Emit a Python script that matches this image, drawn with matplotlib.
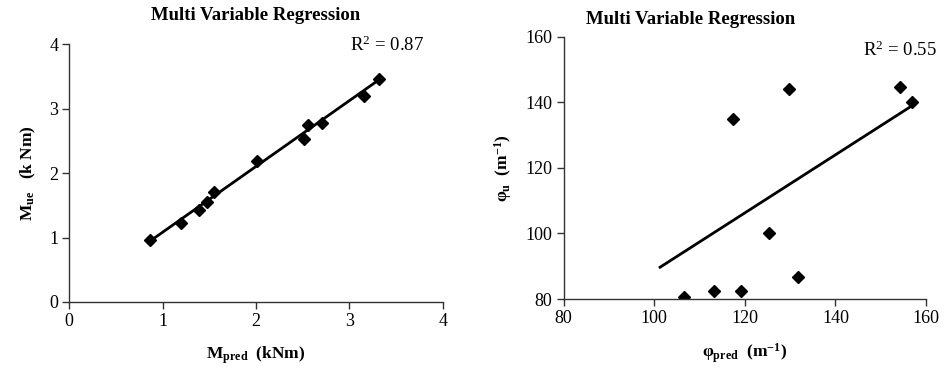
import matplotlib

matplotlib.use('AGG')
import matplotlib.pyplot as plt

plt.rcParams['font.family'] = ['Liberation Serif', 'DejaVu Serif']
plt.rcParams['mathtext.fontset'] = 'custom'
plt.rcParams['mathtext.rm'] = 'Liberation Serif'
plt.rcParams['mathtext.it'] = 'Liberation Serif:italic'
plt.rcParams['mathtext.bf'] = 'Liberation Serif:bold'

# moment chart
m_pred = [0.86, 1.20, 1.39, 1.47, 1.55, 2.01, 2.51, 2.56, 2.71, 3.16, 3.32]
m_ue = [0.96, 1.22, 1.43, 1.55, 1.71, 2.18, 2.53, 2.74, 2.78, 3.19, 3.46]
m_fit_x = [0.86, 3.32]
m_fit_y = [0.94, 3.45]

# curvature chart
phi_pred = [106.6, 113.3, 119.2, 125.3, 131.7, 117.4, 129.7, 154.3, 156.8]
phi_u = [80.5, 82.5, 82.5, 100.2, 86.6, 135.0, 144.0, 144.7, 140.2]
phi_fit_x = [101.3, 156.5]
phi_fit_y = [89.7, 138.6]


def style_axes(ax):
    ax.spines['top'].set_visible(False)
    ax.spines['right'].set_visible(False)
    for s in ['left', 'bottom']:
        ax.spines[s].set_color('#333333')
        ax.spines[s].set_linewidth(1.0)
    ax.tick_params(direction='out', length=5, width=1.0, color='#333333',
                   labelsize=13, pad=3)


fig = plt.figure(figsize=(9.44, 3.71), dpi=100)

ax1 = fig.add_axes([0.0734, 0.186, 0.3956, 0.695])
ax1.plot(m_fit_x, m_fit_y, 'k-', lw=2.0)
ax1.plot(m_pred, m_ue, 'kD', ms=6.5)
ax1.set_xlim(0, 4)
ax1.set_ylim(0, 4)
ax1.set_xticks([0, 1, 2, 3, 4])
ax1.set_yticks([0, 1, 2, 3, 4])
style_axes(ax1)
ax1.set_xlabel(r'$\mathbf{M_{pred}}$  (kNm)', fontsize=12.5, fontweight='bold', labelpad=10)
ax1.set_ylabel(r'$\mathbf{M_{ue}}$   (k Nm)', fontsize=12.5, fontweight='bold', labelpad=8)
ax1.text(0.5, 1.11, 'Multi Variable Regression', transform=ax1.transAxes,
         ha='center', va='center', fontsize=13.5, fontweight='bold')
ax1.text(0.95, 0.995, r'R$^2$ = 0.87', transform=ax1.transAxes,
         ha='right', va='center', fontsize=13.5)

ax2 = fig.add_axes([0.597, 0.194, 0.384, 0.707])
ax2.plot(phi_fit_x, phi_fit_y, 'k-', lw=2.0)
ax2.plot(phi_pred, phi_u, 'kD', ms=6.5)
ax2.set_xlim(80, 160)
ax2.set_ylim(80, 160)
ax2.set_xticks([80, 100, 120, 140, 160])
ax2.set_yticks([80, 100, 120, 140, 160])
style_axes(ax2)
ax2.set_xlabel(r'$\mathbf{φ_{pred}}$  (m$^{\mathbf{-1}}$)', fontsize=12.5, fontweight='bold', labelpad=10)
ax2.set_ylabel(r'$\mathbf{φ_{u}}$  (m$^{\mathbf{-1}}$)', fontsize=12.5, fontweight='bold', labelpad=8)
ax2.text(0.35, 1.065, 'Multi Variable Regression', transform=ax2.transAxes,
         ha='center', va='center', fontsize=13.5, fontweight='bold')
ax2.text(1.03, 0.95, r'R$^2$ = 0.55', transform=ax2.transAxes,
         ha='right', va='center', fontsize=13.5)

plt.savefig('out.png', dpi=100)
